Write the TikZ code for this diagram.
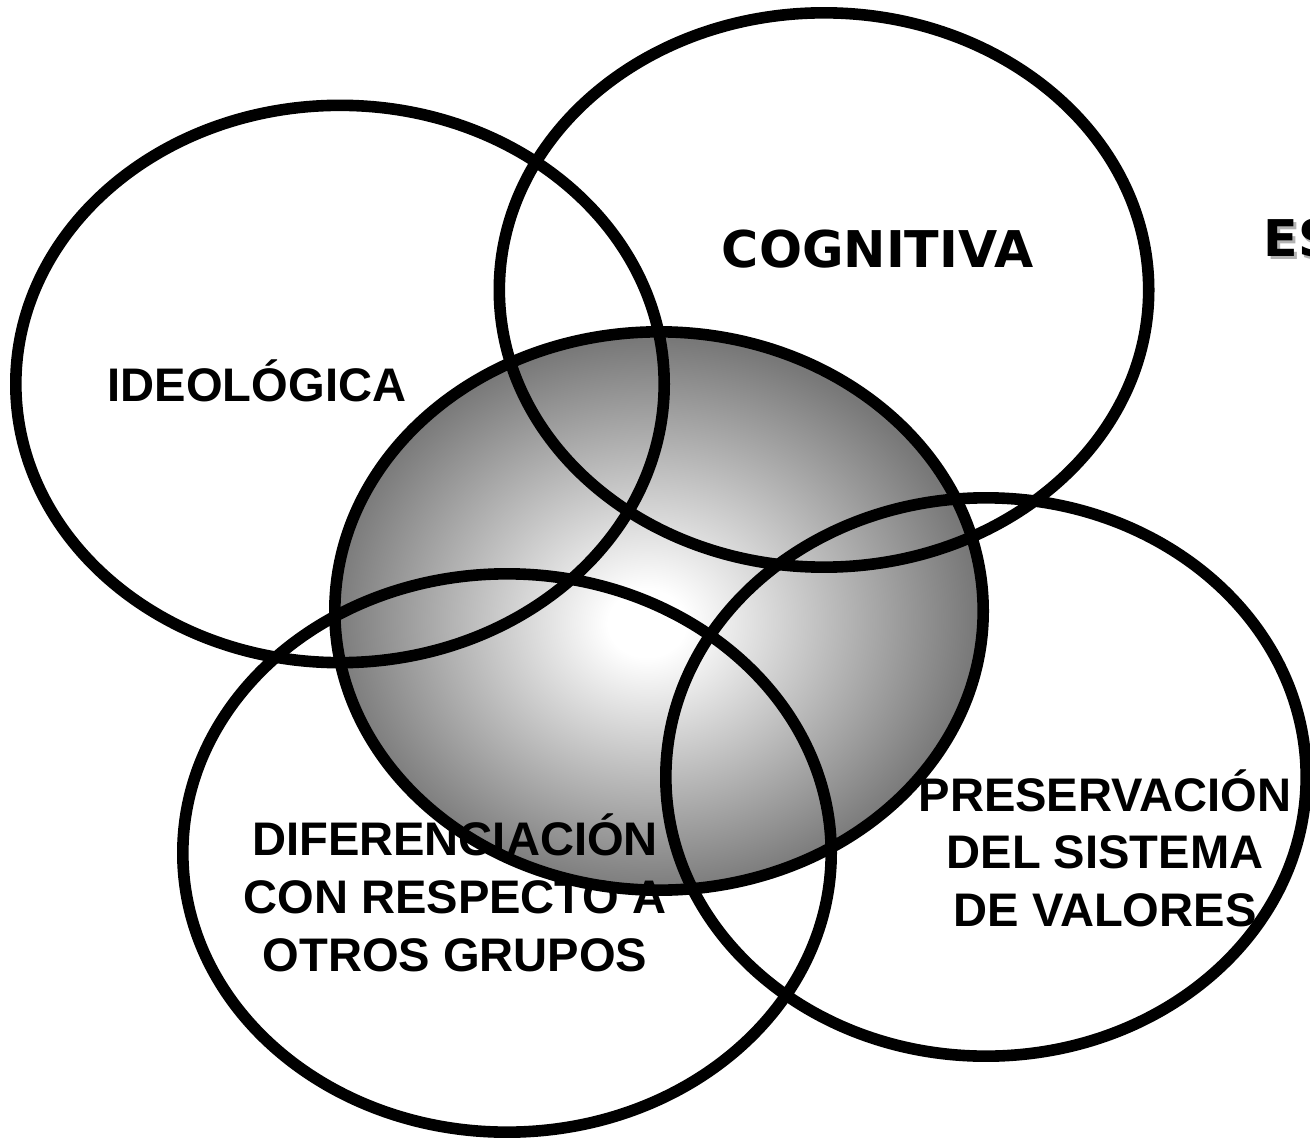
\documentclass[tikz,border=0pt]{standalone}
\usepackage{fontspec}
\setmainfont{Liberation Sans}
\newfontfamily\verd{DejaVu Sans}
\pgfdeclareradialshading{ctrshade}{\pgfpoint{-1bp}{-1.2bp}}{color(0bp)=(white); color(3bp)=(white); color(25bp)=(black!53); color(50bp)=(black!53)}
\begin{document}
\begin{tikzpicture}[x=0.01cm,y=-0.01cm,
  ring/.style={line width=3.3pt, draw=black},
  lbl/.style={font=\bfseries\fontsize{13.4}{16}\selectfont, inner sep=0pt, anchor=base},
  vlbl/.style={font=\verd\bfseries\fontsize{14.4}{17}\selectfont, inner sep=0pt, anchor=base}]
\useasboundingbox (0,0) rectangle (1310,1137);
\clip (0,0) rectangle (1310,1137);
% central shaded ellipse
\shade[shading=ctrshade] (659,611) ellipse [x radius=3.24cm, y radius=2.79cm];
\draw[ring] (659,611) ellipse [x radius=3.24cm, y radius=2.79cm];
% outer ellipses
\draw[ring] (340,384) ellipse [x radius=3.24cm, y radius=2.785cm];
\draw[ring] (824,290) ellipse [x radius=3.245cm, y radius=2.77cm];
\draw[ring] (507,853) ellipse [x radius=3.24cm, y radius=2.79cm];
\draw[ring] (986,777) ellipse [x radius=3.20cm, y radius=2.79cm];
% labels
\node[lbl] (ideo) at (257,402) {IDEOLÓGICA};
\node[vlbl] (cogn) at (877.5,268) {COGNITIVA};
\node[vlbl, anchor=base west, text=black!30] (esshadow) at (1265.5,259.5) {ES};
\node[vlbl, anchor=base west] (es) at (1263,257) {ES};
\node[lbl] (dif1) at (455,855) {DIFERENCIACIÓN};
\node[lbl] (dif2) at (455,913) {CON RESPECTO A};
\node[lbl] (dif3) at (455,971) {OTROS GRUPOS};
\node[lbl] (pre1) at (1105,811) {PRESERVACIÓN};
\node[lbl] (pre2) at (1105,868.5) {DEL SISTEMA};
\node[lbl] (pre3) at (1105,926) {DE VALORES};
\end{tikzpicture}
\end{document}
